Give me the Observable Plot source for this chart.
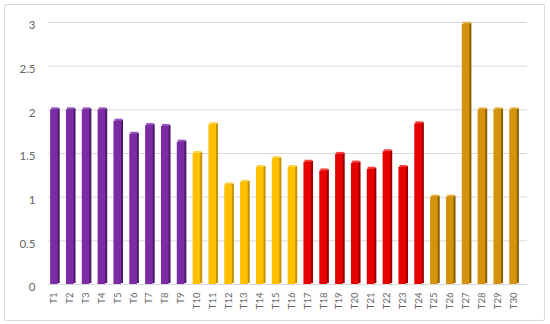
<!DOCTYPE html>
<html>
<head>
<meta charset="utf-8">
<script src="https://cdn.jsdelivr.net/npm/d3@7"></script>
<script src="https://cdn.jsdelivr.net/npm/@observablehq/plot@0.6"></script>
<style>
  html, body { margin: 0; padding: 0; background: #fff; }
  #wrap { position: relative; width: 550px; height: 324px; }
  #border { position: absolute; left: 4px; top: 4px; width: 541px; height: 317px; box-sizing: border-box; border: 1px solid #d9d9d9; border-radius: 2px; pointer-events: none; }
  #chart svg { display: block; }
</style>
</head>
<body>
<div id="wrap"><div id="chart"></div><div id="border"></div></div>
<script>
const categories = ["T1","T2","T3","T4","T5","T6","T7","T8","T9","T10","T11","T12","T13","T14","T15","T16","T17","T18","T19","T20","T21","T22","T23","T24","T25","T26","T27","T28","T29","T30"];
const values = [2, 2, 2, 2, 1.87, 1.72, 1.82, 1.81, 1.63, 1.5, 1.83, 1.14, 1.17, 1.34, 1.44, 1.34, 1.4, 1.3, 1.49, 1.39, 1.32, 1.52, 1.34, 1.84, 1.0, 1.0, 2.98, 2, 2, 2];
const groups = ["g1","g1","g1","g1","g1","g1","g1","g1","g1","g2","g2","g2","g2","g2","g2","g2","g3","g3","g3","g3","g3","g3","g3","g3","g4","g4","g4","g4","g4","g4"];
const yTicks = [0, 0.5, 1, 1.5, 2, 2.5, 3];

const groupNames = ["g1","g2","g3","g4"];
const frontColors = ["#7B2CA5", "#FFC000", "#E60000", "#D4930A"];
const sideColors = ["#4E1A6B", "#C39200", "#9A0000", "#8A5F00"];
const topColors = ["#9B55C2", "#FFD24A", "#FF4040", "#E9AE3C"];

const data = categories.map((c, i) => ({cat: c, value: values[i], group: groups[i]}));
const pick = (arr) => (d) => arr[groupNames.indexOf(d.group)];

const font = "Lato, 'Open Sans', sans-serif";

const chart = Plot.plot({
  width: 550,
  height: 324,
  marginLeft: 46,
  marginRight: 29,
  marginTop: 22,
  marginBottom: 40,
  style: {fontFamily: font, background: "transparent"},
  x: {domain: categories, paddingInner: 0.52, paddingOuter: 0.26, round: false, label: null},
  y: {domain: [0, 3], label: null},
  marks: [
    Plot.gridY(yTicks, {stroke: "#d9d9d9", strokeOpacity: 1, strokeWidth: 1, dx: 2, insetRight: -4}),
    Plot.barY(data, {x: "cat", y: "value", fill: pick(sideColors), dx: 2, dy: -1}),
    Plot.barY(data, {x: "cat", y: "value", fill: pick(frontColors)}),
    Plot.barY(data, {x: "cat", y1: "value", y2: "value", insetTop: -2, dx: 1, fill: pick(topColors)}),
    Plot.axisY(yTicks, {tickSize: 0, tickPadding: 11, dy: 3, fontSize: 11.5, fill: "#666", tickFormat: d => String(d)}),
    Plot.axisX({tickSize: 0, tickPadding: 8, tickRotate: -90, fontSize: 9.5, fill: "#666"})
  ]
});
document.getElementById("chart").appendChild(chart);
</script>
</body>
</html>
